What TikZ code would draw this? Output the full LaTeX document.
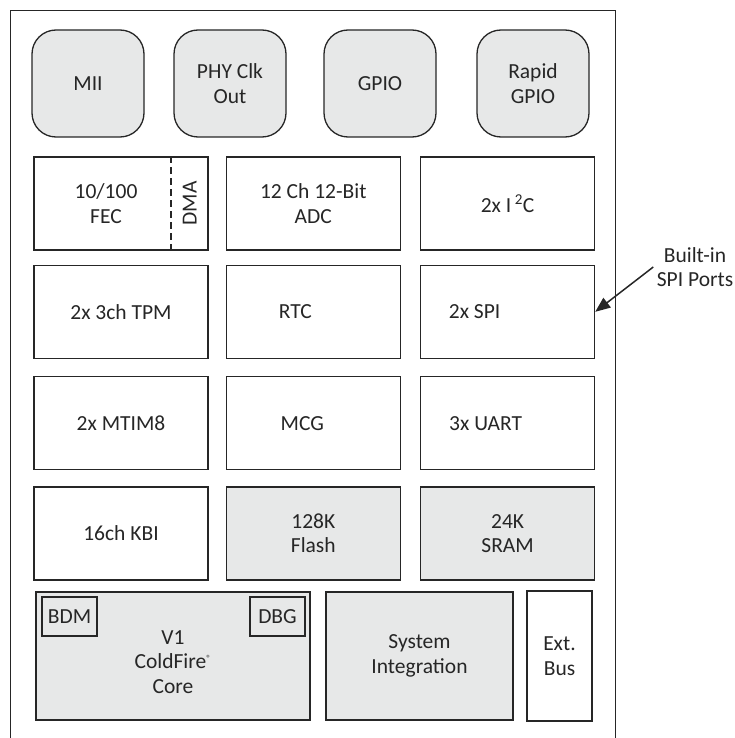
\documentclass[tikz,border=0pt]{standalone}
\usepackage{fontspec}
\setmainfont{Carlito}
\usetikzlibrary{arrows.meta, positioning}
\definecolor{chipgray}{RGB}{231,232,232}
\definecolor{inkgray}{RGB}{38,38,38}
\tikzstyle{pin} = [rectangle, rounded corners=24pt, minimum width=112pt, minimum height=107pt, draw=inkgray, line width=1.3pt, fill=chipgray]
\tikzstyle{block} = [rectangle, minimum width=174pt, minimum height=93pt, draw=inkgray, line width=1.3pt, fill=white]
\tikzstyle{memory} = [block, fill=chipgray]
\tikzstyle{debug} = [rectangle, minimum width=55pt, minimum height=39pt, inner sep=1pt, draw=inkgray, line width=1.3pt]
\tikzstyle{arrow} = [line width=1.5pt, draw=inkgray, -{Triangle[length=15pt,width=12pt]}]

\begin{document}
\begin{tikzpicture}[x=1pt, y=-1pt, node distance=14pt and 17pt, every node/.style={font=\fontsize{21.5}{24.5}\selectfont, text=inkgray, align=center}]
\useasboundingbox (0,0) rectangle (734,738);

% Chip outline
\node (chip) [rectangle, draw=inkgray, line width=1pt, minimum width=605pt, minimum height=745pt, anchor=north west] at (10,10) {};

% Pins
\node (mii) [pin] at (88,83.5) {MII};
\node (phy) [pin] at (230,83.5) {PHY Clk\\Out};
\node (gpio) [pin] at (380,83.5) {GPIO};
\node (rgpio) [pin] at (533,83.5) {Rapid\\GPIO};

% Ethernet
\node (fec) [block] at (121,203.5) {};
\node (fectext) at ([xshift=-15pt]fec.center) {10/100\\FEC};
\node (dma) [rotate=90] at ([xshift=-19pt]fec.east) {DMA};
\draw [line width=2pt, draw=inkgray, dash pattern=on 7pt off 4pt] ([xshift=-38pt]fec.north east) -- ([xshift=-38pt]fec.south east);

% Peripherals
\node (adc) [block, right=of fec] {12 Ch 12-Bit\\ADC};
\node (iic) [block, right=19pt of adc] {2x I\,\textsuperscript{2}C};
\node (tpm) [block, below=of fec] {2x 3ch TPM};
\node (rtc) [block, below=of adc] {};
\node (rtctext) at ([xshift=-18pt]rtc.center) {RTC};
\node (spi) [block, below=of iic] {};
\node (spitext) at ([xshift=-33pt]spi.center) {2x SPI};
\node (mtim) [block, below=17pt of tpm] {2x MTIM8};
\node (mcg) [block, below=17pt of rtc] {};
\node (mcgtext) at ([xshift=-11pt]mcg.center) {MCG};
\node (uart) [block, below=17pt of spi] {};
\node (uarttext) at ([xshift=-22pt]uart.center) {3x UART};
\node (kbi) [block, below=16pt of mtim] {16ch KBI};

% Memories
\node (flash) [memory, below=16pt of mcg] {128K\\Flash};
\node (sram) [memory, below=16pt of uart] {24K\\SRAM};

% Core
\node (core) [memory, minimum width=274pt, minimum height=128pt] at (173,656) {};
\node (coretext) at ([yshift=-6pt]core.center) {V1\\ColdFire\textsuperscript{\fontsize{9}{9}\selectfont\textregistered}\\Core};
\node (bdm) [debug, anchor=north west] at ([xshift=6pt,yshift=-5pt]core.north west) {BDM};
\node (dbg) [debug, anchor=north east] at ([xshift=-5pt,yshift=-5pt]core.north east) {DBG};
\node (sysint) [memory, minimum width=187pt, minimum height=128pt] at (419.5,656) {System\\Integration};
\node (extbus) [block, minimum width=65pt, minimum height=130pt] at (559.5,656) {Ext.\\Bus};

% Callout
\node (ports) at (695,267) {Built-in\\SPI Ports};
\draw [arrow] (ports.west) -- (spi.east);

\end{tikzpicture}
\end{document}
